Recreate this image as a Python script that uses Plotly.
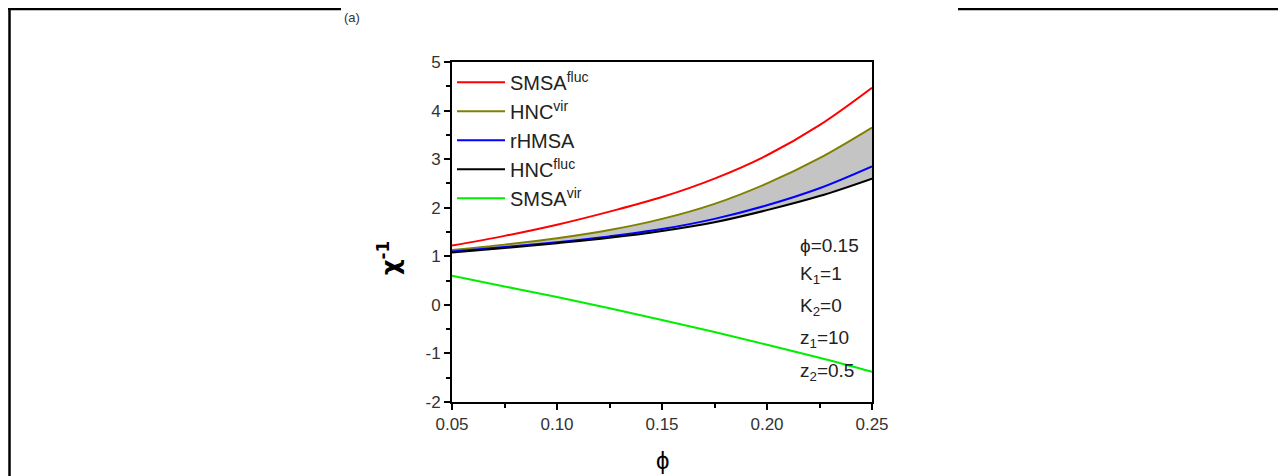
import plotly.graph_objects as go

phi = [0.05, 0.075, 0.10, 0.125, 0.15, 0.175, 0.20, 0.225, 0.25]
smsa_fluc = [1.22, 1.42, 1.65, 1.92, 2.22, 2.60, 3.08, 3.70, 4.47]
hnc_vir = [1.13, 1.24, 1.37, 1.54, 1.77, 2.08, 2.50, 3.02, 3.65]
rhmsa = [1.10, 1.19, 1.29, 1.41, 1.56, 1.77, 2.05, 2.40, 2.85]
hnc_fluc = [1.08, 1.17, 1.27, 1.38, 1.52, 1.70, 1.95, 2.24, 2.60]
smsa_vir = [0.60, 0.38, 0.16, -0.07, -0.31, -0.56, -0.82, -1.09, -1.38]

x_ticks = [0.05, 0.10, 0.15, 0.20, 0.25]
x_ticktext = ["0.05", "0.10", "0.15", "0.20", "0.25"]
y_ticks = [-2, -1, 0, 1, 2, 3, 4, 5]
y_ticktext = ["-2", "-1", "0", "1", "2", "3", "4", "5"]

params = ["\u03d5=0.15", "K<sub>1</sub>=1", "K<sub>2</sub>=0", "z<sub>1</sub>=10", "z<sub>2</sub>=0.5"]

FONT = "Liberation Sans, Arial, sans-serif"
fig = go.Figure()

# gray band between HNC^fluc and HNC^vir
fig.add_trace(go.Scatter(x=phi, y=hnc_fluc, mode="lines", line=dict(width=0, shape="spline"),
                         showlegend=False, hoverinfo="skip"))
fig.add_trace(go.Scatter(x=phi, y=hnc_vir, mode="lines", line=dict(width=0, shape="spline"),
                         fill="tonexty", fillcolor="#c4c4c4", showlegend=False, hoverinfo="skip"))

series = [
    ("SMSA<sup>fluc</sup>", smsa_fluc, "#ff0000"),
    ("HNC<sup>vir</sup>", hnc_vir, "#808000"),
    ("rHMSA", rhmsa, "#0000ff"),
    ("HNC<sup>fluc</sup>", hnc_fluc, "#000000"),
    ("SMSA<sup>vir</sup>", smsa_vir, "#00ee00"),
]
for name, ys, col in series:
    fig.add_trace(go.Scatter(x=phi, y=ys, mode="lines", name=name,
                             line=dict(color=col, width=2, shape="spline")))

axis_common = dict(showline=True, linecolor="black", linewidth=2, mirror=True,
                   ticks="outside", ticklen=6, tickwidth=2, tickcolor="black",
                   showgrid=False, zeroline=False,
                   tickfont=dict(family=FONT, size=17, color="#333333"))
fig.update_xaxes(range=[0.05, 0.25], tickvals=x_ticks, ticktext=x_ticktext,
                 minor=dict(ticks="outside", ticklen=4, tickwidth=2, tickcolor="black", dtick=0.025,
                            tick0=0.05),
                 **axis_common)
fig.update_yaxes(range=[-2, 5], tickvals=y_ticks, ticktext=y_ticktext,
                 minor=dict(ticks="outside", ticklen=4, tickwidth=2, tickcolor="black", dtick=0.5),
                 **axis_common)

annotations = [
    dict(text="<b>\u03c7<sup>-1</sup></b>", x=(389 - 452) / 420, y=(402 - 258) / 340,
         xref="paper", yref="paper", xanchor="center", yanchor="middle",
         textangle=-90, showarrow=False, font=dict(family="DejaVu Sans", size=24, color="black")),
    dict(text="\u03d5", x=0.5, y=(402 - 460) / 340, xref="paper", yref="paper",
         xanchor="center", yanchor="middle",
         showarrow=False, font=dict(family=FONT, size=24, color="black")),
    dict(text="(a)", x=(352 - 452) / 420, y=(402 - 17) / 340, xref="paper", yref="paper",
         xanchor="center", yanchor="middle",
         showarrow=False, font=dict(family=FONT, size=13, color="#333333")),
]
ys_px = [245, 275, 307, 339, 372]
for t, py in zip(params, ys_px):
    annotations.append(dict(text=t, x=(798 - 452) / 420, y=(402 - py) / 340, xref="paper", yref="paper",
                            xanchor="left", yanchor="middle", showarrow=False,
                            font=dict(family=FONT, size=19, color="#222222")))

top_y = (402 - 9) / 340
shapes = [
    dict(type="line", xref="paper", yref="paper", x0=(8 - 452) / 420, x1=(341 - 452) / 420,
         y0=top_y, y1=top_y, line=dict(color="black", width=2.5)),
    dict(type="line", xref="paper", yref="paper", x0=(958 - 452) / 420, x1=(1282 - 452) / 420,
         y0=top_y, y1=top_y, line=dict(color="black", width=2.5)),
    dict(type="line", xref="paper", yref="paper", x0=(9.5 - 452) / 420, x1=(9.5 - 452) / 420,
         y0=top_y + 0.004, y1=(402 - 480) / 340, line=dict(color="black", width=2.5)),
]

fig.update_layout(
    width=1270, height=468,
    margin=dict(l=444, r=406, t=54, b=74),
    paper_bgcolor="white", plot_bgcolor="white",
    font=dict(family=FONT, color="#222222"),
    legend=dict(x=0.0, y=0.998, xanchor="left", yanchor="top", bgcolor="rgba(0,0,0,0)",
                traceorder="normal",
                font=dict(family=FONT, size=20, color="#222222"), itemwidth=48, tracegroupgap=0),
    annotations=annotations, shapes=shapes,
)

fig.write_html("out.html")
